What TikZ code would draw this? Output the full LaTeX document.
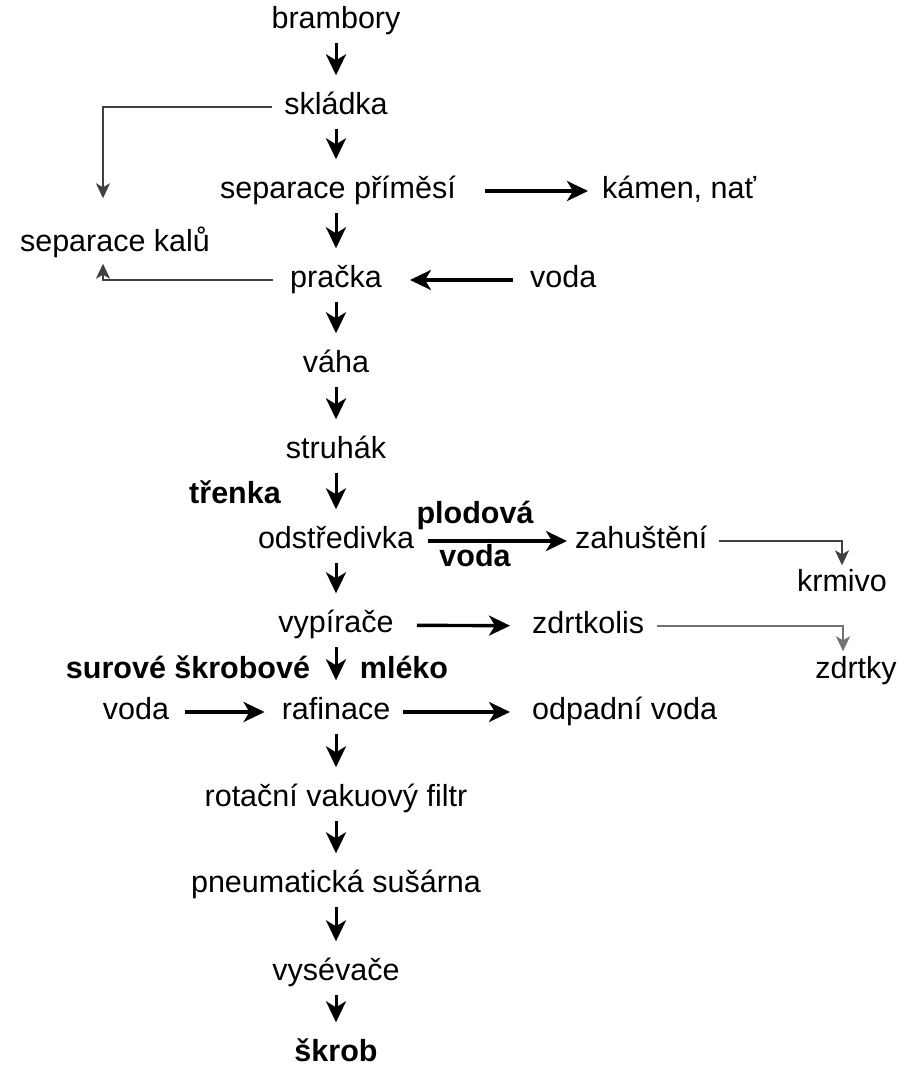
\documentclass[tikz,border=0pt]{standalone}
\usepackage{fontspec}
\setmainfont{Liberation Sans}
\usepackage{tikz}
\usetikzlibrary{arrows.meta}

\begin{document}
\begin{tikzpicture}[x=1pt, y=-1pt,
        item/.style={inner sep=0pt, text height=22pt, text depth=7pt,
                     font=\fontsize{30.5}{36}\selectfont},
        tag/.style={item, font=\fontsize{30.5}{36}\selectfont\bfseries},
        flow/.style={-{Stealth[length=21pt, width=20pt, inset=6pt]}, line width=3.4pt},
        godown/.style={flow, line width=3pt, shorten <=7pt, shorten >=17pt},
        waste/.style={-{Stealth[length=15pt, width=14pt, inset=4pt]}, line width=1.8pt, draw=black!75}]

        \useasboundingbox (0,0) rectangle (909,1070);

        \node[item] (brambory)    at (336,21)   {brambory};
        \node[item] (skladka)     at (336,107)  {skládka};
        \node[item] (separace)    at (338,191)  {separace příměsí};
        \node[item] (pracka)      at (336,280)  {pračka};
        \node[item] (vaha)        at (336,365)  {váha};
        \node[item] (struhak)     at (336,451)  {struhák};
        \node[item] (odstredivka) at (336,541)  {odstředivka};
        \node[item] (vypirace)    at (336,625)  {vypírače};
        \node[item] (rafinace)    at (336,712)  {rafinace};
        \node[item] (filtr)       at (336,799)  {rotační vakuový filtr};
        \node[item] (susarna)     at (336,885)  {pneumatická sušárna};
        \node[item] (vysevace)    at (336,973)  {vysévače};
        \node[tag]  (skrob)       at (336,1054) {škrob};

        \node[item, anchor=west] (kamen)     at (602,191) {kámen, nať};
        \node[item]              (kalu)      at (115,244) {separace kalů};
        \node[item, anchor=west] (voda)      at (530,280) {voda};
        \node[item, anchor=west] (zahusteni) at (575,541) {zahuštění};
        \node[item]              (krmivo)    at (842,584) {krmivo};
        \node[item, anchor=west] (zdrtkolis) at (532,626) {zdrtkolis};
        \node[item]              (zdrtky)    at (856,671) {zdrtky};
        \node[item]              (vodarafinace) at (136,712) {voda};
        \node[item, anchor=west] (odpadni)   at (532,712) {odpadní voda};

        \node[tag] (trenka)   at (235,496) {třenka};
        \node[tag] (plodova)  at (475,516) {plodová};
        \node[tag] (plodvoda) at (475,559) {voda};
        \node[tag] (surove)   at (188,671) {surové škrobové};
        \node[tag] (mleko)    at (404,671) {mléko};

        \draw[godown] (brambory)    -- (skladka);
        \draw[godown] (skladka)     -- (separace.north -| skladka);
        \draw[godown] (separace.south -| pracka) -- (pracka);
        \draw[godown] (pracka)      -- (vaha);
        \draw[godown] (vaha)        -- (struhak);
        \draw[godown] (struhak)     -- (odstredivka);
        \draw[godown] (odstredivka) -- (vypirace);
        \draw[godown] (vypirace)    -- (rafinace);
        \draw[godown] (rafinace)    -- (filtr);
        \draw[godown] (filtr)       -- (susarna);
        \draw[godown] (susarna)     -- (vysevace);
        \draw[godown] (vysevace)    -- (skrob);

        \draw[flow, shorten <=29pt, shorten >=14pt] (separace)     -- (kamen);
        \draw[flow, shorten <=17pt, shorten >=28pt] (voda)         -- (pracka);
        \draw[flow, shorten <=14pt, shorten >=8pt]  (odstredivka)  -- (zahusteni);
        \draw[flow, shorten <=23pt, shorten >=22pt] (vypirace)     -- (zdrtkolis);
        \draw[flow, shorten <=16pt, shorten >=17pt] (vodarafinace) -- (rafinace);
        \draw[flow, shorten <=13pt, shorten >=22pt] (rafinace)     -- (odpadni);

        \draw[waste, shorten >=31pt] ([xshift=-12pt]skladka.west) -| ([xshift=-12pt]kalu.north);
        \draw[waste, shorten >=5pt]  ([xshift=-17pt]pracka.west)  -| ([xshift=-12pt]kalu.south);
        \draw[waste, shorten >=4pt]  ([xshift=11pt]zahusteni.east) -| (krmivo.north);
        \draw[waste, draw=black!55, shorten >=5pt] ([xshift=13pt]zdrtkolis.east) -| ([xshift=-13pt]zdrtky.north);
\end{tikzpicture}
\end{document}
